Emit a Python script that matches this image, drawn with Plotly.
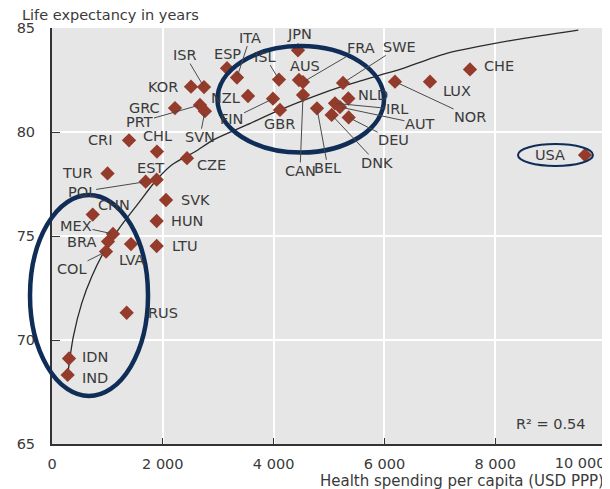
import plotly.graph_objects as go

# ---------------- data ----------------
countries = ["KOR", "ISR", "ESP", "ITA", "ISL", "JPN", "AUS", "FRA", "SWE", "NZL",
             "FIN", "GBR", "CAN", "BEL", "NLD", "IRL", "AUT", "DEU", "DNK", "NOR",
             "LUX", "CHE", "USA", "GRC", "PRT", "SVN", "CRI", "CHL", "CZE", "TUR",
             "EST", "POL", "SVK", "CHN", "HUN", "MEX", "BRA", "COL", "LVA", "LTU",
             "RUS", "IDN", "IND"]
health_spending = [2509, 2744, 3159, 3339, 4097, 4440, 4458, 4530, 5253, 3538,
                   3989, 4115, 4531, 4783, 5349, 5108, 5198, 5355, 5048, 6191,
                   6823, 7545, 9621, 2220, 2671, 2760, 1390, 1895, 2437, 1003,
                   1889, 1690, 2058, 735, 1889, 1101, 1011, 975, 1426, 1889,
                   1348, 307, 283]
life_expectancy = [82.18, 82.16, 83.07, 82.62, 82.52, 83.93, 82.50, 82.40, 82.36, 81.73,
                   81.60, 81.06, 81.78, 81.14, 81.61, 81.38, 81.20, 80.70, 80.82, 82.42,
                   82.42, 83.01, 78.89, 81.15, 81.30, 81.00, 79.60, 79.06, 78.74, 78.01,
                   77.71, 77.61, 76.73, 76.03, 75.72, 75.10, 74.73, 74.25, 74.61, 74.52,
                   71.31, 69.11, 68.32]

# trend line, sampled from the reference curve
trend_x = [283, 385, 536, 716, 957, 1258, 1558, 1859, 2160, 2581, 2912, 3514,
           4115, 4717, 5319, 5920, 6281, 7124, 8327, 9500]
trend_y = [68.32, 70.16, 71.76, 73.04, 74.33, 75.53, 76.57, 77.61, 78.41, 79.05,
           79.62, 80.34, 81.06, 81.70, 82.26, 82.74, 83.01, 83.78, 84.42, 84.90]

x_tick_values = [0, 2000, 4000, 6000, 8000, 10000]
x_tick_labels = ["0", "2 000", "4 000", "6 000", "8 000", "10 000"]
y_tick_values = [65, 70, 75, 80, 85]
y_tick_labels = ["65", "70", "75", "80", "85"]

r_squared_text = "R² = 0.54"
y_title = "Life expectancy in years"
x_title = "Health spending per capita (USD PPP)"

# ---------------- styling / label placement ----------------
X_RANGE = (0, 10000)
Y_RANGE = (65, 85)
FONT = "'DejaVu Sans', Arial, sans-serif"
FS = 14.5
TEXT = "#3a3a3a"
MARKER = "#943b2b"
NAVY = "#0f2d57"
PAGE_OFFSET = 8  # default body margin of the html page

# label offset in pixels from marker (dx right, dy down), leader line flag
label_pos = {
    "KOR": (-28, 0, False), "ISR": (-19, -32, True), "ESP": (0, -14, False),
    "ITA": (13, -40, True), "ISL": (-14, -23, True), "JPN": (2, -16, False),
    "AUS": (6, -14, False), "FRA": (58, -34, True), "SWE": (56, -36, True),
    "NZL": (-23, 2, False), "FIN": (-41, 20, True), "GBR": (0, 14, False),
    "CAN": (-3, 76, True), "BEL": (11, 60, True), "NLD": (25, -4, False),
    "IRL": (62, 6, True), "AUT": (80, 17, True), "DEU": (45, 23, True),
    "DNK": (45, 48, True), "NOR": (75, 35, True), "LUX": (27, 9, False),
    "CHE": (29, -3, False), "USA": (-35, 0, False), "GRC": (-30, 0, False),
    "PRT": (-60, 17, True), "SVN": (-5, 26, True), "CRI": (-29, 0, False),
    "CHL": (1, -16, False), "CZE": (24, 7, False), "TUR": (-30, 0, False),
    "EST": (-6, -12, False), "POL": (-64, 10, True), "SVK": (29, 0, False),
    "CHN": (21, -10, False), "HUN": (30, 0, False), "MEX": (-37, -8, True),
    "BRA": (-27, 0, False), "COL": (-34, 17, True), "LVA": (0, 16, False),
    "LTU": (28, 0, False), "RUS": (36, 0, False), "IDN": (26, -2, False),
    "IND": (27, 3, False),
}

# highlight ellipses in data units: (x0, x1, y_bottom, y_top, width)
ellipses = [
    (-397, 1733, 67.31, 76.97, 4.5),
    (2987, 5993, 79.01, 84.13, 4.5),
    (8411, 9765, 78.37, 79.42, 2),
]


def to_paper_x(v):
    return (v - X_RANGE[0]) / (X_RANGE[1] - X_RANGE[0])


def to_paper_y(v):
    return (v - Y_RANGE[0]) / (Y_RANGE[1] - Y_RANGE[0])


fig = go.Figure()

fig.add_trace(go.Scatter(
    x=trend_x, y=trend_y, mode="lines",
    line=dict(color="#2a2a2a", width=1.3, shape="spline", smoothing=0.8),
    hoverinfo="skip", showlegend=False,
))

fig.add_trace(go.Scatter(
    x=health_spending, y=life_expectancy, mode="markers",
    marker=dict(symbol="diamond", size=11, color=MARKER, line=dict(width=0)),
    text=countries, hovertemplate="%{text}: %{x}, %{y}<extra></extra>",
    showlegend=False,
))

# empty trace so the overlay axis (right-aligned last tick label) is drawn
fig.add_trace(go.Scatter(x=[], y=[], xaxis="x2", yaxis="y", showlegend=False,
                         hoverinfo="skip"))

annotations = []
for c, xv, yv in zip(countries, health_spending, life_expectancy):
    dx, dy, leader = label_pos[c]
    if leader:
        annotations.append(dict(
            x=xv, y=yv, xref="x", yref="y", text=c, showarrow=True,
            ax=dx, ay=dy, axref="pixel", ayref="pixel",
            arrowhead=0, arrowwidth=1, arrowcolor="#4a4a4a", standoff=2,
            font=dict(family=FONT, size=FS, color=TEXT), borderpad=0,
        ))
    else:
        annotations.append(dict(
            x=xv, y=yv, xref="x", yref="y", text=c, showarrow=False,
            xshift=dx, yshift=-dy, xanchor="center", yanchor="middle",
            font=dict(family=FONT, size=FS, color=TEXT),
        ))

annotations.append(dict(
    text=y_title, xref="paper", yref="paper", x=-32 / 554, y=1 + 13 / 416,
    xanchor="left", yanchor="middle", showarrow=False,
    font=dict(family=FONT, size=FS, color=TEXT),
))
annotations.append(dict(
    text=x_title, xref="paper", yref="paper", x=1, y=-37 / 416,
    xanchor="right", yanchor="middle", showarrow=False,
    font=dict(family=FONT, size=15, color=TEXT),
))
annotations.append(dict(
    text=r_squared_text, xref="paper", yref="paper", x=0.9, y=0.048,
    xanchor="center", yanchor="middle", showarrow=False,
    font=dict(family=FONT, size=FS, color=TEXT),
))

shapes = []
for x0, x1, yb, yt, w in ellipses:
    shapes.append(dict(
        type="circle", xref="paper", yref="paper",
        x0=to_paper_x(x0), x1=to_paper_x(x1), y0=to_paper_y(yb), y1=to_paper_y(yt),
        line=dict(color=NAVY, width=w), layer="above",
    ))

tick_font = dict(family=FONT, size=FS, color=TEXT)
main_tick_text = x_tick_labels[:-1] + [""]

fig.update_layout(
    width=610 - PAGE_OFFSET, height=489 - PAGE_OFFSET,
    margin=dict(l=52 - PAGE_OFFSET, r=4, t=28 - PAGE_OFFSET, b=45),
    paper_bgcolor="white", plot_bgcolor="#e6e6e6",
    font=dict(family=FONT, size=FS, color=TEXT),
    annotations=annotations, shapes=shapes,
    xaxis=dict(
        range=list(X_RANGE), tickvals=x_tick_values, ticktext=main_tick_text,
        showgrid=True, gridcolor="white", gridwidth=2,
        zeroline=False, showline=True, linecolor="#333333", linewidth=2,
        ticks="inside", ticklen=6, tickcolor="#333333", tickwidth=1,
        ticklabelstandoff=6, tickfont=tick_font,
        ticklabeloverflow="allow", automargin=False, fixedrange=True,
    ),
    xaxis2=dict(
        range=list(X_RANGE), tickvals=x_tick_values[-1:], ticktext=x_tick_labels[-1:],
        overlaying="x", anchor="y", side="bottom",
        showgrid=False, zeroline=False, showline=False,
        ticks="outside", ticklen=5, tickcolor="rgba(0,0,0,0)", tickwidth=1,
        ticklabelposition="outside left", ticklabelstandoff=6, tickfont=tick_font,
        automargin=False, fixedrange=True,
    ),
    yaxis=dict(
        range=list(Y_RANGE), tickvals=y_tick_values, ticktext=y_tick_labels,
        showgrid=True, gridcolor="white", gridwidth=2,
        zeroline=False, showline=True, linecolor="#333333", linewidth=2,
        ticks="inside", ticklen=8, tickcolor="#333333", tickwidth=1,
        ticklabelstandoff=12, tickfont=tick_font,
        ticklabeloverflow="allow", automargin=False, fixedrange=True,
    ),
)

fig.write_html("out.html")
